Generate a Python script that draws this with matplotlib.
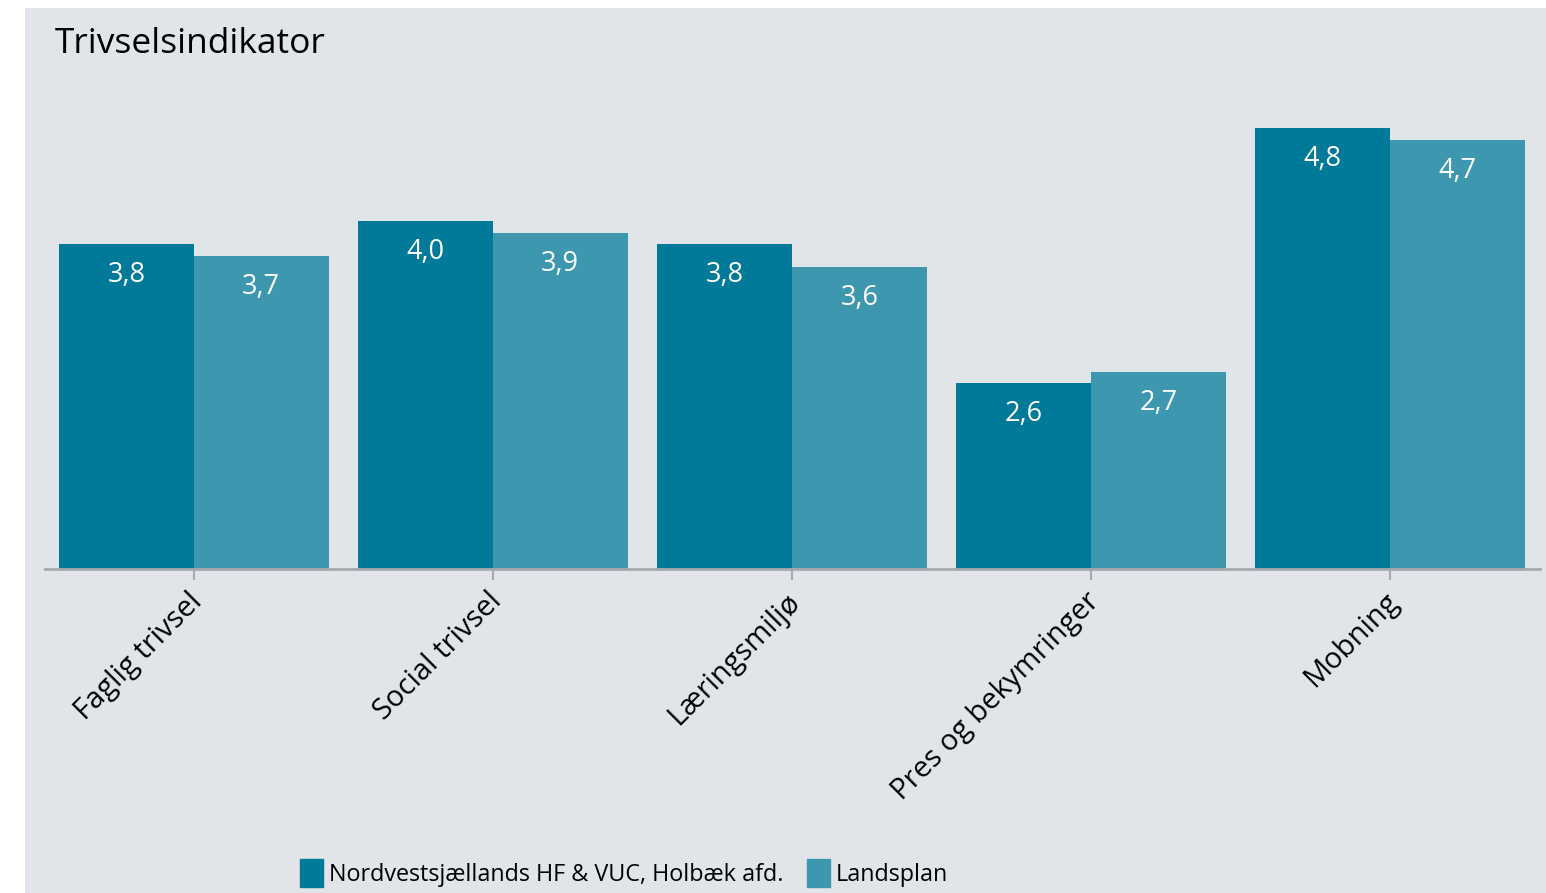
import numpy as np
import matplotlib.pyplot as plt
import matplotlib.transforms as mtransforms
from matplotlib.patches import Rectangle, Patch

plt.rcParams['font.family'] = ['Open Sans', 'DejaVu Sans']

categories = ["Faglig trivsel", "Social trivsel", "Læringsmiljø", "Pres og bekymringer", "Mobning"]
school = [3.8, 4.0, 3.8, 2.6, 4.8]
national = [3.7, 3.9, 3.6, 2.7, 4.7]
series_names = ["Nordvestsjællands HF & VUC, Holbæk afd.", "Landsplan"]

dark = "#017A99"
light = "#3D98AF"
bg = "#E1E5E9"

W, H = 1546, 893
fig = plt.figure(figsize=(W / 100, H / 100), dpi=100)
fig.patch.set_facecolor("white")
fig.add_artist(Rectangle((25 / W, 0), 1 - 25 / W, (H - 8) / H, transform=fig.transFigure,
                         facecolor=bg, edgecolor="none", zorder=-10))

ax = fig.add_axes([44.5 / W, 324 / H, 1495 / W, 464 / H])
ax.set_facecolor("none")

x = np.arange(len(categories))
w = 0.45
b1 = ax.bar(x - w / 2, np.array(school) - 1, w, bottom=1, color=dark)
b2 = ax.bar(x + w / 2, np.array(national) - 1, w, bottom=1, color=light)

for bars, vals in ((b1, school), (b2, national)):
    for r, v in zip(bars, vals):
        ax.annotate(f"{v:.1f}".replace(".", ","), (r.get_x() + r.get_width() / 2, v),
                    xytext=(0, -31), textcoords="offset pixels", ha="center", va="center",
                    color="white", fontsize=19.5)

ax.set_xlim(-0.5, 4.5)
ax.set_ylim(1, 5)
ax.set_yticks([])
for s in ("top", "right", "left"):
    ax.spines[s].set_visible(False)
ax.spines["bottom"].set_color("#A6AAAE")
ax.spines["bottom"].set_linewidth(2)
ax.set_xticks(x)
ax.set_xticklabels(categories, rotation=45, ha="right", rotation_mode="anchor", fontsize=21)
ax.tick_params(axis="x", length=8, width=1.5, color="#A6AAAE", pad=5)
shift = mtransforms.ScaledTranslation(-6 / 100, 0, fig.dpi_scale_trans)
for lbl in ax.get_xticklabels():
    lbl.set_transform(lbl.get_transform() + shift)

fig.text(55 / W, 1 - 53 / H, "Trivselsindikator", fontsize=25.5, va="baseline", ha="left")

handles = [Patch(color=dark), Patch(color=light)]
fig.legend(handles, series_names, loc="center left", bbox_to_anchor=(279 / W, 1 - 873 / H),
           frameon=False, fontsize=16.8, handlelength=1.0, handleheight=1.5, handletextpad=0.25,
           columnspacing=1.0, ncol=2)

fig.savefig("out.png", dpi=100)
